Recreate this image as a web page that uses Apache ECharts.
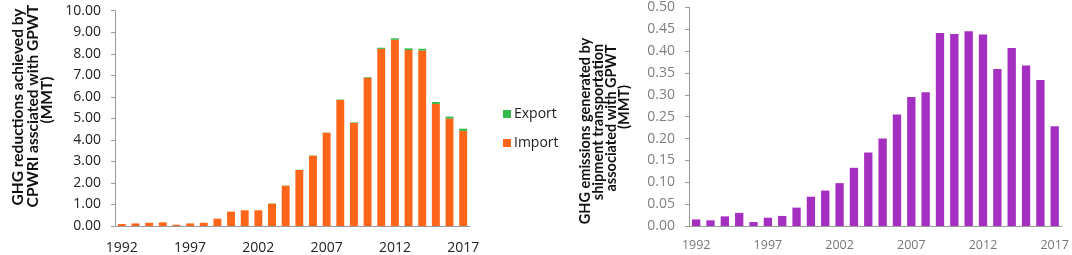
<!DOCTYPE html>
<html>
<head>
<meta charset="utf-8">
<script src="https://cdn.jsdelivr.net/npm/echarts@6/dist/echarts.min.js"></script>
<style>
html,body{margin:0;padding:0;background:#fff;}
#c{width:1072px;height:255px;}
</style>
</head>
<body>
<div id="c"></div>
<script>
const years = ['1992','1993','1994','1995','1996','1997','1998','1999','2000','2001','2002','2003','2004','2005','2006','2007','2008','2009','2010','2011','2012','2013','2014','2015','2016','2017'];
const importVals = [0.09,0.12,0.15,0.17,0.06,0.12,0.15,0.34,0.67,0.73,0.73,1.04,1.87,2.60,3.27,4.33,5.85,4.80,6.89,8.23,8.65,8.17,8.15,5.67,4.99,4.42];
const exportVals = [0,0,0,0,0,0,0,0,0,0,0,0.01,0.01,0.01,0.01,0.01,0.02,0.02,0.03,0.05,0.07,0.08,0.08,0.09,0.09,0.10];
const emissionVals = [0.015,0.013,0.022,0.030,0.009,0.019,0.023,0.042,0.067,0.081,0.098,0.133,0.168,0.200,0.255,0.295,0.306,0.441,0.439,0.445,0.438,0.359,0.407,0.367,0.334,0.228];
const leftTitle = ['GHG reductions achieved by','CPWRI assciated with GPWT','(MMT)'];
const rightTitle = ['GHG emissions generated by','shipment transportation','associated with GPWT','(MMT)'];

const FONT = 'Open Sans';
const TFONT = 'Lato';
const chart = echarts.init(document.getElementById('c'), null, {renderer:'canvas'});

const leftPos = [[18,107],[33,106],[47,100]];
const rightPos = [[585,131],[598,122],[611,118],[624,107]];
const graphics = [];
leftTitle.forEach((t,i)=>graphics.push({type:'text',x:leftPos[i][0],y:leftPos[i][1],rotation:Math.PI/2,
  style:{text:t,font:'bold 15.5px "'+TFONT+'"',fill:'#111',align:'center',verticalAlign:'middle'}}));
rightTitle.forEach((t,i)=>graphics.push({type:'text',x:rightPos[i][0],y:rightPos[i][1],rotation:Math.PI/2,
  style:{text:t,font:'bold 14.5px "'+TFONT+'"',fill:'#111',align:'center',verticalAlign:'middle'}}));

const axisLineStyle = {color:'#9a9a9a',width:1};
chart.setOption({
  animation:false,
  textStyle:{fontFamily:FONT},
  graphic:graphics,
  legend:{
    orient:'vertical',left:498,top:102,itemWidth:8,itemHeight:8,itemGap:15,
    data:['Export','Import'],
    textStyle:{fontFamily:FONT,fontSize:14,color:'#222',padding:[0,0,0,-2]},
    icon:'rect'
  },
  grid:[
    {left:115,top:10.7,width:355,height:215.3},
    {left:689,top:7.3,width:374,height:218.7}
  ],
  xAxis:[
    {type:'category',gridIndex:0,data:years,
      axisLine:{lineStyle:axisLineStyle},axisTick:{show:false},
      axisLabel:{interval:4,fontFamily:FONT,fontSize:14,color:'#222',margin:15}},
    {type:'category',gridIndex:1,data:years,
      axisLine:{lineStyle:axisLineStyle},axisTick:{show:false},
      axisLabel:{interval:4,fontFamily:FONT,fontSize:12.5,color:'#777',margin:13}}
  ],
  yAxis:[
    {type:'value',gridIndex:0,min:0,max:10,interval:1,
      axisLine:{show:true,lineStyle:axisLineStyle},
      axisTick:{show:true,length:4,lineStyle:axisLineStyle},
      splitLine:{show:false},
      axisLabel:{fontFamily:FONT,fontSize:14,color:'#222',margin:14,formatter:v=>v.toFixed(2)}},
    {type:'value',gridIndex:1,min:0,max:0.5,interval:0.05,
      axisLine:{show:true,lineStyle:axisLineStyle},
      axisTick:{show:true,length:4,lineStyle:axisLineStyle},
      splitLine:{show:false},
      axisLabel:{fontFamily:FONT,fontSize:14,color:'#7f7f7f',margin:14,formatter:v=>v.toFixed(2)}}
  ],
  series:[
    {name:'Import',type:'bar',stack:'a',xAxisIndex:0,yAxisIndex:0,data:importVals,
      barCategoryGap:'42%',itemStyle:{color:'#ff661a'}},
    {name:'Export',type:'bar',stack:'a',xAxisIndex:0,yAxisIndex:0,data:exportVals,
      barCategoryGap:'42%',itemStyle:{color:'#33b84a'}},
    {name:'Emissions',type:'bar',xAxisIndex:1,yAxisIndex:1,data:emissionVals,
      barCategoryGap:'42%',itemStyle:{color:'#a42fc0'}}
  ]
});
</script>
</body>
</html>
